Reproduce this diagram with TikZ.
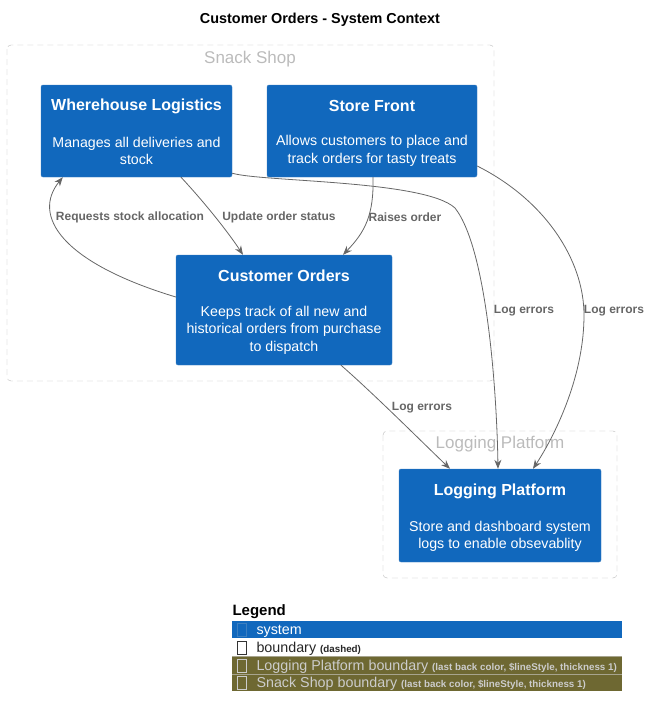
\documentclass[tikz,border=0pt]{standalone}
\usepackage{fontspec}
\setmainfont{Liberation Sans}
\usepackage{xcolor}
\usepackage{tikz}
\usetikzlibrary{arrows.meta}

\definecolor{sysblue}{HTML}{1168BD}
\definecolor{sysline}{HTML}{3C7FC0}
\definecolor{relgrey}{HTML}{666666}
\definecolor{bndgrey}{HTML}{BBBBBB}
\definecolor{legolive}{RGB}{110,104,50}
\definecolor{legtext}{HTML}{CCCCCC}

\tikzset{
  sysbox/.style={draw=sysline, fill=sysblue, rounded corners=2pt, inner sep=0pt},
  systitle/.style={text=white, font=\bfseries\fontsize{16}{18}\selectfont},
  sysdesc/.style={text=white, align=center, font=\fontsize{14.2}{17.5}\selectfont},
  bndbox/.style={draw=bndgrey, rounded corners=4pt, dash pattern=on 6pt off 4pt},
  bndlabel/.style={text=bndgrey, font=\fontsize{17}{20}\selectfont},
  rel/.style={draw=relgrey, line width=0.8pt, -{Stealth[length=9pt,width=7pt]}},
  rellabel/.style={text=relgrey, font=\bfseries\fontsize{12}{14}\selectfont},
  legicon/.style={draw=#1, minimum width=9pt, minimum height=13pt, inner sep=0pt},
  legtxt/.style={anchor=west, font=\fontsize{14.3}{16}\selectfont},
}
\newcommand{\legsmall}[1]{{\bfseries\fontsize{9.8}{11}\selectfont #1}}

\begin{document}
\begin{tikzpicture}[x=1pt,y=-1pt]
\useasboundingbox (0,0) rectangle (652,716);

\node[font=\bfseries\fontsize{14.4}{16}\selectfont] (title) at (320,20) {Customer Orders - System Context};

% boundaries
\draw[bndbox] (7,45) rectangle (494,381);
\node[bndlabel] (snack label) at (250,59) {Snack Shop};
\draw[bndbox] (383,431) rectangle (617,578);
\node[bndlabel] (logging label) at (500,444) {Logging Platform};

% systems
\node[sysbox, minimum width=191pt, minimum height=92pt] (wl) at (136.5,131) {};
\node[systitle] (wl title) at (136.5,106) {Wherehouse Logistics};
\node[sysdesc] (wl desc) at (136.5,151) {Manages all deliveries and\\stock};

\node[sysbox, minimum width=210pt, minimum height=92pt] (sf) at (372,131) {};
\node[systitle] (sf title) at (372,106) {Store Front};
\node[sysdesc] (sf desc) at (372,151) {Allows customers to place and\\track orders for tasty treats};

\node[sysbox, minimum width=216pt, minimum height=110pt] (co) at (284,310) {};
\node[systitle] (co title) at (284,276) {Customer Orders};
\node[sysdesc] (co desc) at (284,330) {Keeps track of all new and\\historical orders from purchase\\to dispatch};

\node[sysbox, minimum width=202pt, minimum height=93pt] (lp) at (500,515.5) {};
\node[systitle] (lp title) at (500,491) {Logging Platform};
\node[sysdesc] (lp desc) at (500,536.5) {Store and dashboard system\\logs to enable obsevablity};

% relations
\draw[rel] ([yshift=13pt]co.west) .. controls (60,262) and (32,215) .. ([xshift=22pt]wl.south west);
\node[rellabel] (rel stock) at (130,217) {Requests stock allocation};

\draw[rel] ([xshift=44.5pt]wl.south) .. controls (205,203) and (228,232) .. ([xshift=-41pt]co.north);
\node[rellabel] (rel status) at (279,217) {Update order status};

\draw[rel] ([xshift=1pt]sf.south) .. controls (374,215) and (365,232) .. ([xshift=59pt]co.north);
\node[rellabel] (rel raises) at (405,217) {Raises order};

\draw[rel] ([yshift=4pt]wl.south east) .. controls (262,182) and (425,180) .. (455,208)
  .. controls (488,250) and (497,400) .. ([xshift=-2pt]lp.north);
\node[rellabel] (rel log wl) at (524,311) {Log errors};

\draw[rel] ([yshift=-35pt]sf.east) .. controls (545,200) and (584,260) .. (584,315)
  .. controls (584,380) and (552,440) .. ([xshift=33pt]lp.north);
\node[rellabel] (rel log sf) at (614,311) {Log errors};

\draw[rel] ([xshift=57pt]co.south) .. controls (375,395) and (420,440) .. ([xshift=-50pt]lp.north);
\node[rellabel] (rel log co) at (422,408) {Log errors};

% legend
\node[anchor=west, font=\bfseries\fontsize{15}{17}\selectfont] (legend) at (229,612) {Legend};
\fill[sysblue] (232,621) rectangle (622,638);
\fill[legolive] (232,656) rectangle (622,674);
\fill[legolive] (232,674) rectangle (622,691);
\draw[legtext!60!legolive] (232,656.5) -- (622,656.5);
\draw[legtext!60!legolive] (232,674) -- (622,674);

\node[legicon=sysline] (icon system) at (242,630) {};
\node[legtxt, text=white] (leg system) at (253,631) {system};
\node[legicon=black!80] (icon boundary) at (242,647.5) {};
\node[legtxt, text=black!85] (leg boundary) at (253,648.5) {boundary \legsmall{(dashed)}};
\node[legicon=legtext] (icon logging) at (242,665.5) {};
\node[legtxt, text=legtext] (leg logging) at (253,666.5) {Logging Platform boundary \legsmall{(last back color, \$lineStyle, thickness 1)}};
\node[legicon=legtext] (icon snack) at (242,683) {};
\node[legtxt, text=legtext] (leg snack) at (253,684) {Snack Shop boundary \legsmall{(last back color, \$lineStyle, thickness 1)}};

\end{tikzpicture}
\end{document}
